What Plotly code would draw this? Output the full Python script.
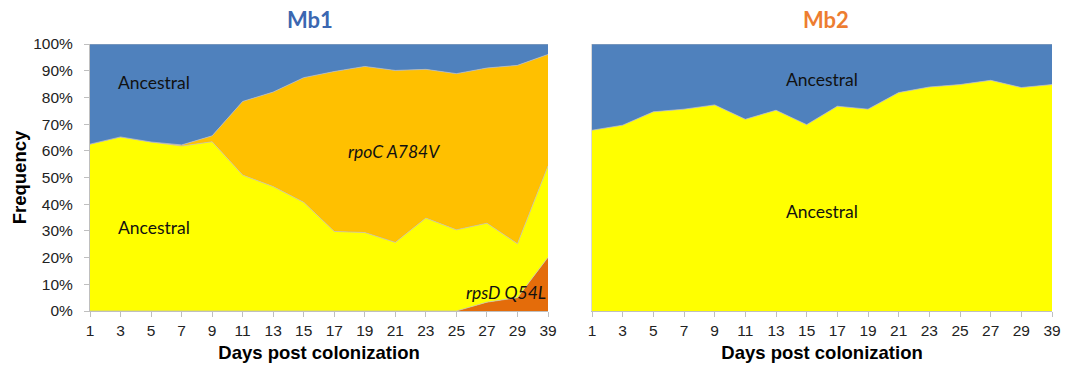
import plotly.graph_objects as go

days = ["1", "3", "5", "7", "9", "11", "13", "15", "17", "19", "21", "23", "25", "27", "29", "39"]

# Mb1 genotype frequencies (%), stacked bottom to top
mb1_rpsD = [0, 0, 0, 0, 0, 0, 0, 0, 0, 0, 0, 0, 0, 3.3, 5.0, 20.1]
mb1_anc_low = [62.5, 65.2, 63.3, 61.8, 63.4, 50.9, 46.6, 40.7, 29.8, 29.4, 25.7, 34.8, 30.4, 29.6, 20.2, 34.2]
mb1_rpoC = [0, 0, 0, 0.4, 2.2, 27.6, 35.4, 46.7, 59.9, 62.2, 64.4, 55.7, 58.5, 58.1, 66.8, 41.8]
mb1_anc_high = [37.5, 34.8, 36.7, 37.8, 34.4, 21.5, 18.0, 12.6, 10.3, 8.4, 9.9, 9.5, 11.1, 9.0, 8.0, 3.9]

# Mb2 genotype frequencies (%)
mb2_anc_low = [67.7, 69.6, 74.6, 75.6, 77.2, 71.8, 75.2, 69.8, 76.7, 75.6, 81.8, 83.9, 84.8, 86.4, 83.7, 84.8]
mb2_anc_high = [100 - v for v in mb2_anc_low]

BLUE = "#4F81BD"
YELLOW = "#FFFF00"
ORANGE = "#FFC000"
RED = "#E46C0A"
EDGE = "rgba(190,190,190,0.9)"

fig = go.Figure()


def area(x, y, color, xa, ya, group):
    fig.add_trace(go.Scatter(
        x=x, y=y, mode="lines", stackgroup=group,
        fillcolor=color, line=dict(color=EDGE, width=0.8),
        xaxis=xa, yaxis=ya, showlegend=False, hoverinfo="skip",
    ))


area(days, mb1_rpsD, RED, "x", "y", "mb1")
area(days, mb1_anc_low, YELLOW, "x", "y", "mb1")
area(days, mb1_rpoC, ORANGE, "x", "y", "mb1")
area(days, mb1_anc_high, BLUE, "x", "y", "mb1")

area(days, mb2_anc_low, YELLOW, "x2", "y2", "mb2")
area(days, mb2_anc_high, BLUE, "x2", "y2", "mb2")

W, H = 1068, 366
ML, MR, MT, MB = 90, 16, 43.5, 54.5
PW, PH = W - ML - MR, H - MT - MB


def px(xp):
    return (xp - ML) / PW


def py(yp):
    return (H - MB - yp) / PH


tickfont = dict(family="Liberation Sans, Arial, sans-serif", size=15.5, color="#222")
titlefont = dict(family="Liberation Sans, Arial, sans-serif", size=18.5, color="#000", weight="bold")

xcommon = dict(
    type="category", range=[0, len(days) - 1], showgrid=False, zeroline=False,
    showline=True, linecolor="#BFBFBF", linewidth=1, automargin=False,
    ticks="outside", ticklen=5, tickcolor="#BFBFBF", tickfont=tickfont,
    title=dict(text="Days post colonization", font=titlefont, standoff=8),
)

fig.update_layout(
    width=W, height=H,
    margin=dict(l=ML, r=MR, t=MT, b=MB, pad=0),
    paper_bgcolor="white", plot_bgcolor="white",
    xaxis=dict(domain=[0, px(548)], anchor="y", **xcommon),
    xaxis2=dict(domain=[px(592), 1], anchor="y2", **xcommon),
    yaxis=dict(
        domain=[0, 1], range=[0, 100], showgrid=False, zeroline=False,
        showline=True, linecolor="#BFBFBF", linewidth=1, automargin=False,
        ticks="outside", ticklen=5, tickcolor="#BFBFBF", ticklabelstandoff=8,
        tickvals=list(range(0, 101, 10)),
        ticktext=[f"{v}%" for v in range(0, 101, 10)], tickfont=tickfont,
        title=dict(text="Frequency", font=titlefont, standoff=1),
    ),
    yaxis2=dict(
        domain=[0, 1], range=[0, 100], showgrid=False, zeroline=False,
        showline=True, linecolor="#D9D9D9", linewidth=1, automargin=False,
        showticklabels=False, ticks="", anchor="x2",
    ),
)

labfont = dict(family="Lato, Noto Sans, sans-serif", size=17.5, color="#111")
itfont = dict(family="Lato, Noto Sans, sans-serif", size=17.5, color="#111", style="italic")
headfont = "Lato, Noto Sans, sans-serif"


def note(xp, yp, text, font):
    fig.add_annotation(xref="paper", yref="paper", x=px(xp), y=py(yp),
                       xanchor="center", yanchor="middle",
                       text=text, showarrow=False, font=font)


note(310, 19, "<b>Mb1</b>", dict(family=headfont, size=22, color="#3B67B1"))
note(826, 19, "<b>Mb2</b>", dict(family=headfont, size=22, color="#ED7D31"))

note(154, 82, "Ancestral", labfont)
note(154, 228, "Ancestral", labfont)
note(394, 151, "rpoC A784V", itfont)
note(506, 293, "rpsD Q54L", itfont)
note(822, 79, "Ancestral", labfont)
note(822, 212, "Ancestral", labfont)

fig.write_html("out.html")
